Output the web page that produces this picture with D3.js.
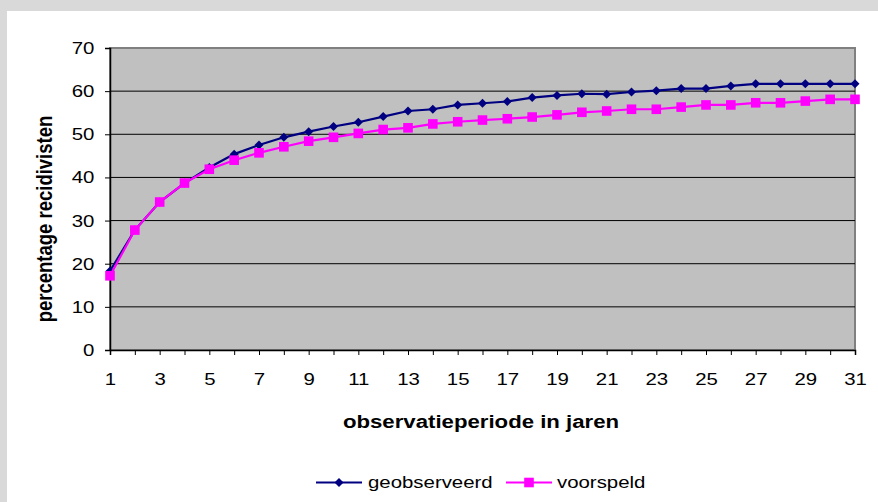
<!DOCTYPE html>
<html>
<head>
<meta charset="utf-8">
<script src="https://cdn.jsdelivr.net/npm/d3@7"></script>
<style>
  html, body { margin: 0; padding: 0; background: #d9d9d9; }
  svg { display: block; font-family: "Liberation Sans", Arial, sans-serif; }
</style>
</head>
<body>
<svg id="chart" width="878" height="502"></svg>
<script>
// years of observation
const years = d3.range(1, 32);
const xTickLabels = [1, 3, 5, 7, 9, 11, 13, 15, 17, 19, 21, 23, 25, 27, 29, 31];
const yTicks = [0, 10, 20, 30, 40, 50, 60, 70];

const geobserveerd = [18.3, 27.8, 34.3, 38.7, 42.3, 45.4, 47.5, 49.3, 50.6, 51.8,
  52.8, 54.1, 55.4, 55.8, 56.8, 57.2, 57.6, 58.5, 59.0, 59.4,
  59.3, 59.8, 60.1, 60.6, 60.6, 61.2, 61.7, 61.7, 61.7, 61.7, 61.7];
const voorspeld = [17.2, 27.8, 34.3, 38.7, 41.9, 44.0, 45.7, 47.1, 48.4, 49.3,
  50.2, 51.1, 51.5, 52.4, 52.9, 53.3, 53.6, 54.0, 54.5, 55.1,
  55.4, 55.8, 55.8, 56.3, 56.8, 56.8, 57.3, 57.3, 57.7, 58.1, 58.1];

const series = [
  { name: 'geobserveerd', values: geobserveerd, color: '#000080', marker: 'diamond' },
  { name: 'voorspeld', values: voorspeld, color: '#ff00ff', marker: 'square' }
];

const svg = d3.select('#chart');
const plot = { left: 110, top: 48, right: 855, bottom: 350 };
const stretch = 1.2; // the original text is a bit wider than the font

// white chart panel
svg.append('rect')
  .attr('x', 7).attr('y', 11)
  .attr('width', 871).attr('height', 491)
  .attr('fill', '#ffffff');

const x = d3.scaleLinear().domain([1, 31]).range([plot.left, plot.right]);
const y = d3.scaleLinear().domain([0, 70]).range([plot.bottom, plot.top]);

svg.append('rect')
  .attr('x', plot.left).attr('y', plot.top)
  .attr('width', plot.right - plot.left).attr('height', plot.bottom - plot.top)
  .attr('fill', '#c0c0c0')
  .attr('stroke', '#808080')
  .attr('stroke-width', 2);

// gridlines
svg.append('g')
  .selectAll('line')
  .data(yTicks.filter(d => d > 0 && d < 70))
  .enter()
  .append('line')
  .attr('x1', plot.left).attr('x2', plot.right)
  .attr('y1', d => y(d)).attr('y2', d => y(d))
  .attr('stroke', '#000000')
  .attr('stroke-width', 1);

// y axis
const yAxis = svg.append('g')
  .attr('transform', `translate(${plot.left},0)`)
  .call(d3.axisLeft(y).tickValues(yTicks).tickSize(5).tickPadding(8));
yAxis.select('.domain').attr('stroke', '#000').attr('stroke-width', 1.5);
yAxis.selectAll('line').attr('stroke', '#000');
yAxis.selectAll('text')
  .attr('font-family', '"Liberation Sans", Arial, sans-serif')
  .style('font-size', '17px').attr('fill', '#000')
  .attr('transform', `scale(${stretch},1)`);

// x axis, a tick for every year, labels on odd years
const xAxis = svg.append('g')
  .attr('transform', `translate(0,${plot.bottom})`)
  .call(d3.axisBottom(x).tickValues(years).tickSize(5).tickPadding(18)
    .tickFormat(d => xTickLabels.includes(d) ? d : ''));
xAxis.select('.domain').attr('stroke', '#000').attr('stroke-width', 1.5);
xAxis.selectAll('line').attr('stroke', '#000');
xAxis.selectAll('text')
  .attr('font-family', '"Liberation Sans", Arial, sans-serif')
  .style('font-size', '17px').attr('fill', '#000')
  .attr('transform', `scale(${stretch},1)`);

// axis titles
svg.append('text')
  .attr('transform', `translate(52,219) scale(${stretch},1) rotate(-90)`)
  .attr('text-anchor', 'middle')
  .style('font-size', '18.5px')
  .style('font-weight', 'bold')
  .text('percentage recidivisten');

svg.append('text')
  .attr('transform', `translate(481,428) scale(${stretch},1)`)
  .attr('text-anchor', 'middle')
  .style('font-size', '18.5px')
  .style('font-weight', 'bold')
  .text('observatieperiode in jaren');

const line = d3.line()
  .x((d, i) => x(years[i]))
  .y(d => y(d));

function drawMarker(g, type, color) {
  if (type === 'diamond') {
    g.append('path')
      .attr('d', 'M0,-4.5L4.5,0L0,4.5L-4.5,0Z')
      .attr('fill', color);
  } else {
    g.append('rect')
      .attr('x', -4.8).attr('y', -4.8)
      .attr('width', 9.6).attr('height', 9.6)
      .attr('fill', color);
  }
}

series.forEach(s => {
  svg.append('path')
    .datum(s.values)
    .attr('fill', 'none')
    .attr('stroke', s.color)
    .attr('stroke-width', 2.2)
    .attr('d', line);

  svg.append('g')
    .selectAll('g')
    .data(s.values)
    .enter()
    .append('g')
    .attr('transform', (d, i) => `translate(${x(years[i])},${y(d)})`)
    .each(function () { drawMarker(d3.select(this), s.marker, s.color); });
});

// legend
const legendPos = [{ x: 316, textX: 368 }, { x: 506, textX: 557 }];
series.forEach((s, i) => {
  const lg = svg.append('g').attr('transform', `translate(${legendPos[i].x},482.5)`);
  lg.append('line')
    .attr('x1', 0).attr('x2', 46)
    .attr('stroke', s.color).attr('stroke-width', 2);
  const m = lg.append('g').attr('transform', 'translate(23,0)');
  drawMarker(m, s.marker, s.color);
  svg.append('text')
    .attr('transform', `translate(${legendPos[i].textX},488) scale(${stretch},1)`)
    .style('font-size', '17px')
    .text(s.name);
});
</script>
</body>
</html>
